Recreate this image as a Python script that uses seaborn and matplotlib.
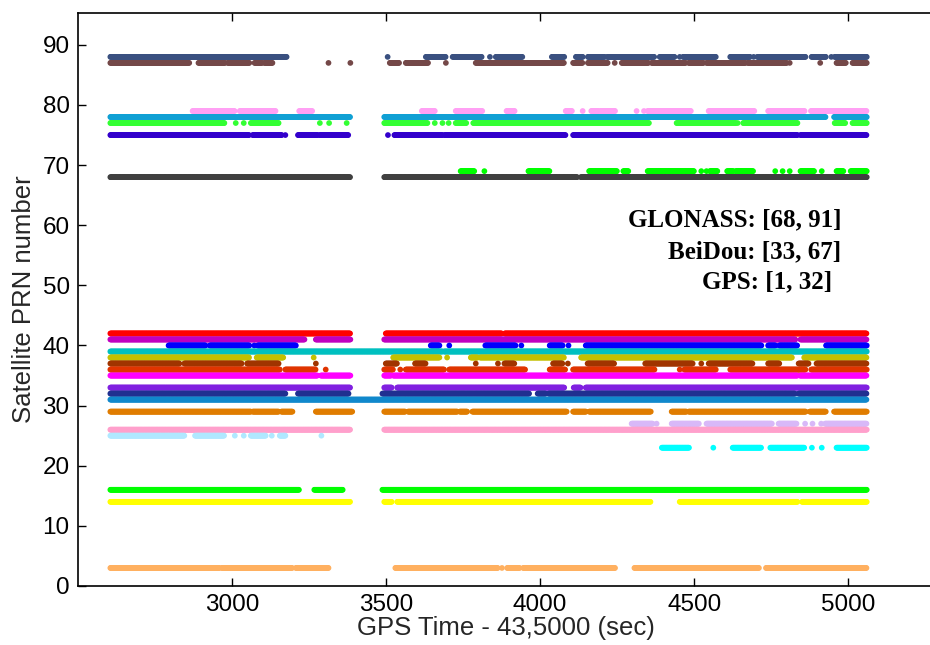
import numpy as np
import pandas as pd
import matplotlib
matplotlib.use("Agg")
import matplotlib.pyplot as plt
import seaborn as sns

# ---- data: tracked time intervals (sec) per satellite PRN ----
prn88 = [(2605,3177),(3505,3505),(3629,3694),(3716,3811),(3837,3837),(3856,3943),(4038,4079),(4116,4138),(4155,4209),(4218,4370),(4388,4436),(4453,4453),(4464,4570),(4617,4682),(4693,4693),(4705,4862),(4881,4927),(4945,4945),(4956,5060)]
prn87 = [(2605,2861),(2891,2977),(2986,3056),(3073,3097),(3105,3131),(3313,3313),(3384,3384),(3512,3543),(3564,3636),(3694,3694),(3791,4078),(4107,4138),(4155,4220),(4242,4242),(4265,4351),(4362,4473),(4482,4531),(4540,4666),(4674,4800),(4810,4810),(4909,4909),(4962,4992),(5014,5060)]
prn79 = [(2872,3008),(3025,3142),(3218,3261),(3616,3659),(3726,3813),(3891,3917),(4083,4103),(4138,4138),(4166,4188),(4195,4244),(4313,4313),(4337,4337),(4349,4489),(4547,4695),(4740,4859),(4879,5060)]
prn78 = [(2605,3384),(3494,4927),(4954,5060)]
prn77 = [(2605,2975),(3012,3012),(3038,3038),(3061,3151),(3285,3285),(3315,3315),(3372,3372),(3494,3635),(3658,3658),(3683,3683),(3703,3703),(3726,3761),(3783,4354),(4443,4636),(4641,4641),(4659,4835),(4956,4990),(5014,5060)]
prn75 = [(2605,3056),(3067,3162),(3173,3173),(3214,3279),(3285,3378),(3506,3506),(3527,3683),(3690,4083),(4107,4835),(4845,5060)]
prn69 = [(3742,3787),(3819,3819),(3962,4031),(4159,4250),(4270,4287),(4349,4500),(4523,4523),(4540,4540),(4551,4576),(4607,4627),(4635,4692),(4763,4763),(4787,4787),(4810,4810),(4845,4890),(4914,4914),(4962,4984),(5008,5060)]
prn68 = [(2605,3384),(3494,4121),(4132,5060)]
prn42 = [(2605,3384),(3499,3876),(3885,5060)]
prn41 = [(2605,3236),(3272,3384),(3494,4828),(4845,5060)]
prn40 = [(2794,2915),(2928,3056),(3072,3072),(3083,3207),(3645,3674),(3705,3705),(3822,3921),(3939,3939),(4031,4073),(4092,4092),(4148,4718),(4740,4765),(4776,4835),(4928,5060)]
prn39 = [(2605,3683),(3688,5060)]
prn38 = [(2605,3056),(3080,3166),(3265,3265),(3523,3674),(3698,3698),(3775,3797),(3805,4078),(4133,4817),(4857,5060)]
prn37 = [(2605,2829),(2845,3032),(3049,3151),(3272,3272),(3499,3536),(3594,3629),(3791,3791),(3863,3863),(3884,3917),(4042,4073),(4090,4090),(4154,4240),(4341,4495),(4523,4523),(4547,4690),(4740,4776),(4839,4871),(4897,5060)]
prn36 = [(2605,3155),(3173,3272),(3304,3304),(3494,3523),(3546,3546),(3564,3688),(3705,3952),(4031,4081),(4107,4372),(4453,4453),(4468,4570),(4617,4862),(4880,5060)]
prn35 = [(2605,3277),(3288,3384),(3494,3516),(3523,4835),(4843,5060)]
prn33 = [(2605,3384),(3494,3519),(3536,4078),(4109,4131),(4148,5060)]
prn32 = [(2605,3173),(3214,3378),(3488,3965),(3992,4019),(4027,4828),(4839,5060)]
prn31 = [(2605,5060)]
prn29 = [(2605,3061),(3067,3151),(3160,3196),(3272,3391),(3494,3562),(3571,3732),(3739,3763),(3780,4086),(4107,4150),(4159,4359),(4427,4476),(4482,4862),(4875,4927),(4954,5060)]
prn27 = [(4297,4365),(4378,4378),(4427,4516),(4540,4752),(4774,4832),(4860,4860),(4884,4884),(4912,4912),(4925,5060)]
prn26 = [(2605,3384),(3494,5060)]
prn25 = [(2605,2845),(2880,2975),(3009,3009),(3038,3038),(3061,3110),(3129,3129),(3155,3173),(3290,3290)]
prn23 = [(4395,4484),(4562,4562),(4625,4717),(4747,4857),(4882,4882),(4914,4914),(4962,5060)]
prn16 = [(2605,3218),(3267,3359),(3488,5060)]
prn14 = [(2605,3384),(3494,3519),(3536,4359),(4453,4835),(4850,5060)]
prn03 = [(2605,2959),(2967,3021),(3025,3196),(3207,3313),(3530,3862),(3876,3876),(3893,3934),(3945,4244),(4306,4711),(4733,5060)]

prns = [88, 87, 79, 78, 77, 75, 69, 68, 42, 41, 40, 39, 38, 37, 36, 35, 33, 32, 31, 29, 27, 26, 25, 23, 16, 14, 3]
intervals = [prn88, prn87, prn79, prn78, prn77, prn75, prn69, prn68, prn42, prn41, prn40, prn39,
             prn38, prn37, prn36, prn35, prn33, prn32, prn31, prn29, prn27, prn26, prn25, prn23,
             prn16, prn14, prn03]
colors = ["#3A5080", "#744848", "#FFA0F4", "#10A0D4", "#33FF33", "#3300CC", "#00FF00", "#404040",
          "#FF0000", "#C000C0", "#0000FF", "#00C0C0", "#C4C000", "#A03400", "#E03400", "#FF00FF",
          "#8020E0", "#203090", "#1088CC", "#E07C00", "#D8B8F8", "#FFA0CC", "#B0E8FF", "#00FFFF",
          "#00FF00", "#FFFF00", "#FFB060"]

ann_text = ["GLONASS: [68, 91]", "BeiDou: [33, 67]", "GPS: [1, 32]"]

SAMPLE = 2  # observation interval (s)

rows = []
for prn, ivs in zip(prns, intervals):
    for a, b in ivs:
        t = np.arange(a, b + 0.1, SAMPLE)
        rows.append(pd.DataFrame({"t": t, "prn": prn, "sat": str(prn)}))
df = pd.concat(rows, ignore_index=True)
palette = {str(p): c for p, c in zip(prns, colors)}

sns.set_style("white")
plt.rcParams["font.family"] = ["Liberation Sans", "DejaVu Sans"]

fig = plt.figure(figsize=(9.3, 6.45), dpi=100)
W, H = 930, 645
x0, x1, ymin_px, ymax_px = 2500, 5280, 586, 13
px_per = 0.3081
left_px = 78
width_px = (x1 - x0) * px_per
ax = fig.add_axes([left_px / W, (H - ymin_px) / H, width_px / W, (ymin_px - ymax_px) / H])

sns.scatterplot(data=df, x="t", y="prn", hue="sat", palette=palette, s=17,
                linewidth=0, marker="o", legend=False, ax=ax)

ax.set_xlim(x0, x1)
ax.set_ylim(0, 95.3)
ax.set_xticks([3000, 3500, 4000, 4500, 5000])
ax.set_yticks(range(0, 91, 10))
ax.tick_params(axis="both", direction="in", length=6, width=1, labelsize=17.5,
               colors="black", top=True, right=False, left=True, bottom=True, pad=6)
for s in ["left", "top", "bottom"]:
    ax.spines[s].set_color("black")
    ax.spines[s].set_linewidth(1.2)
ax.spines["right"].set_visible(False)

ax.set_xlabel("GPS Time - 43,5000 (sec)", fontsize=18.5, labelpad=0)
ax.set_ylabel("Satellite PRN number", fontsize=18.5, labelpad=5)

ann_x = [4978, 4978, 4949]
ann_y = [60.9, 55.6, 50.6]
for txt, xx, yy in zip(ann_text, ann_x, ann_y):
    ax.text(xx, yy, txt, ha="right", va="center", fontsize=18, fontweight="bold",
            family=["Liberation Serif", "DejaVu Serif"], color="black")

fig.savefig("out.png", dpi=100)
